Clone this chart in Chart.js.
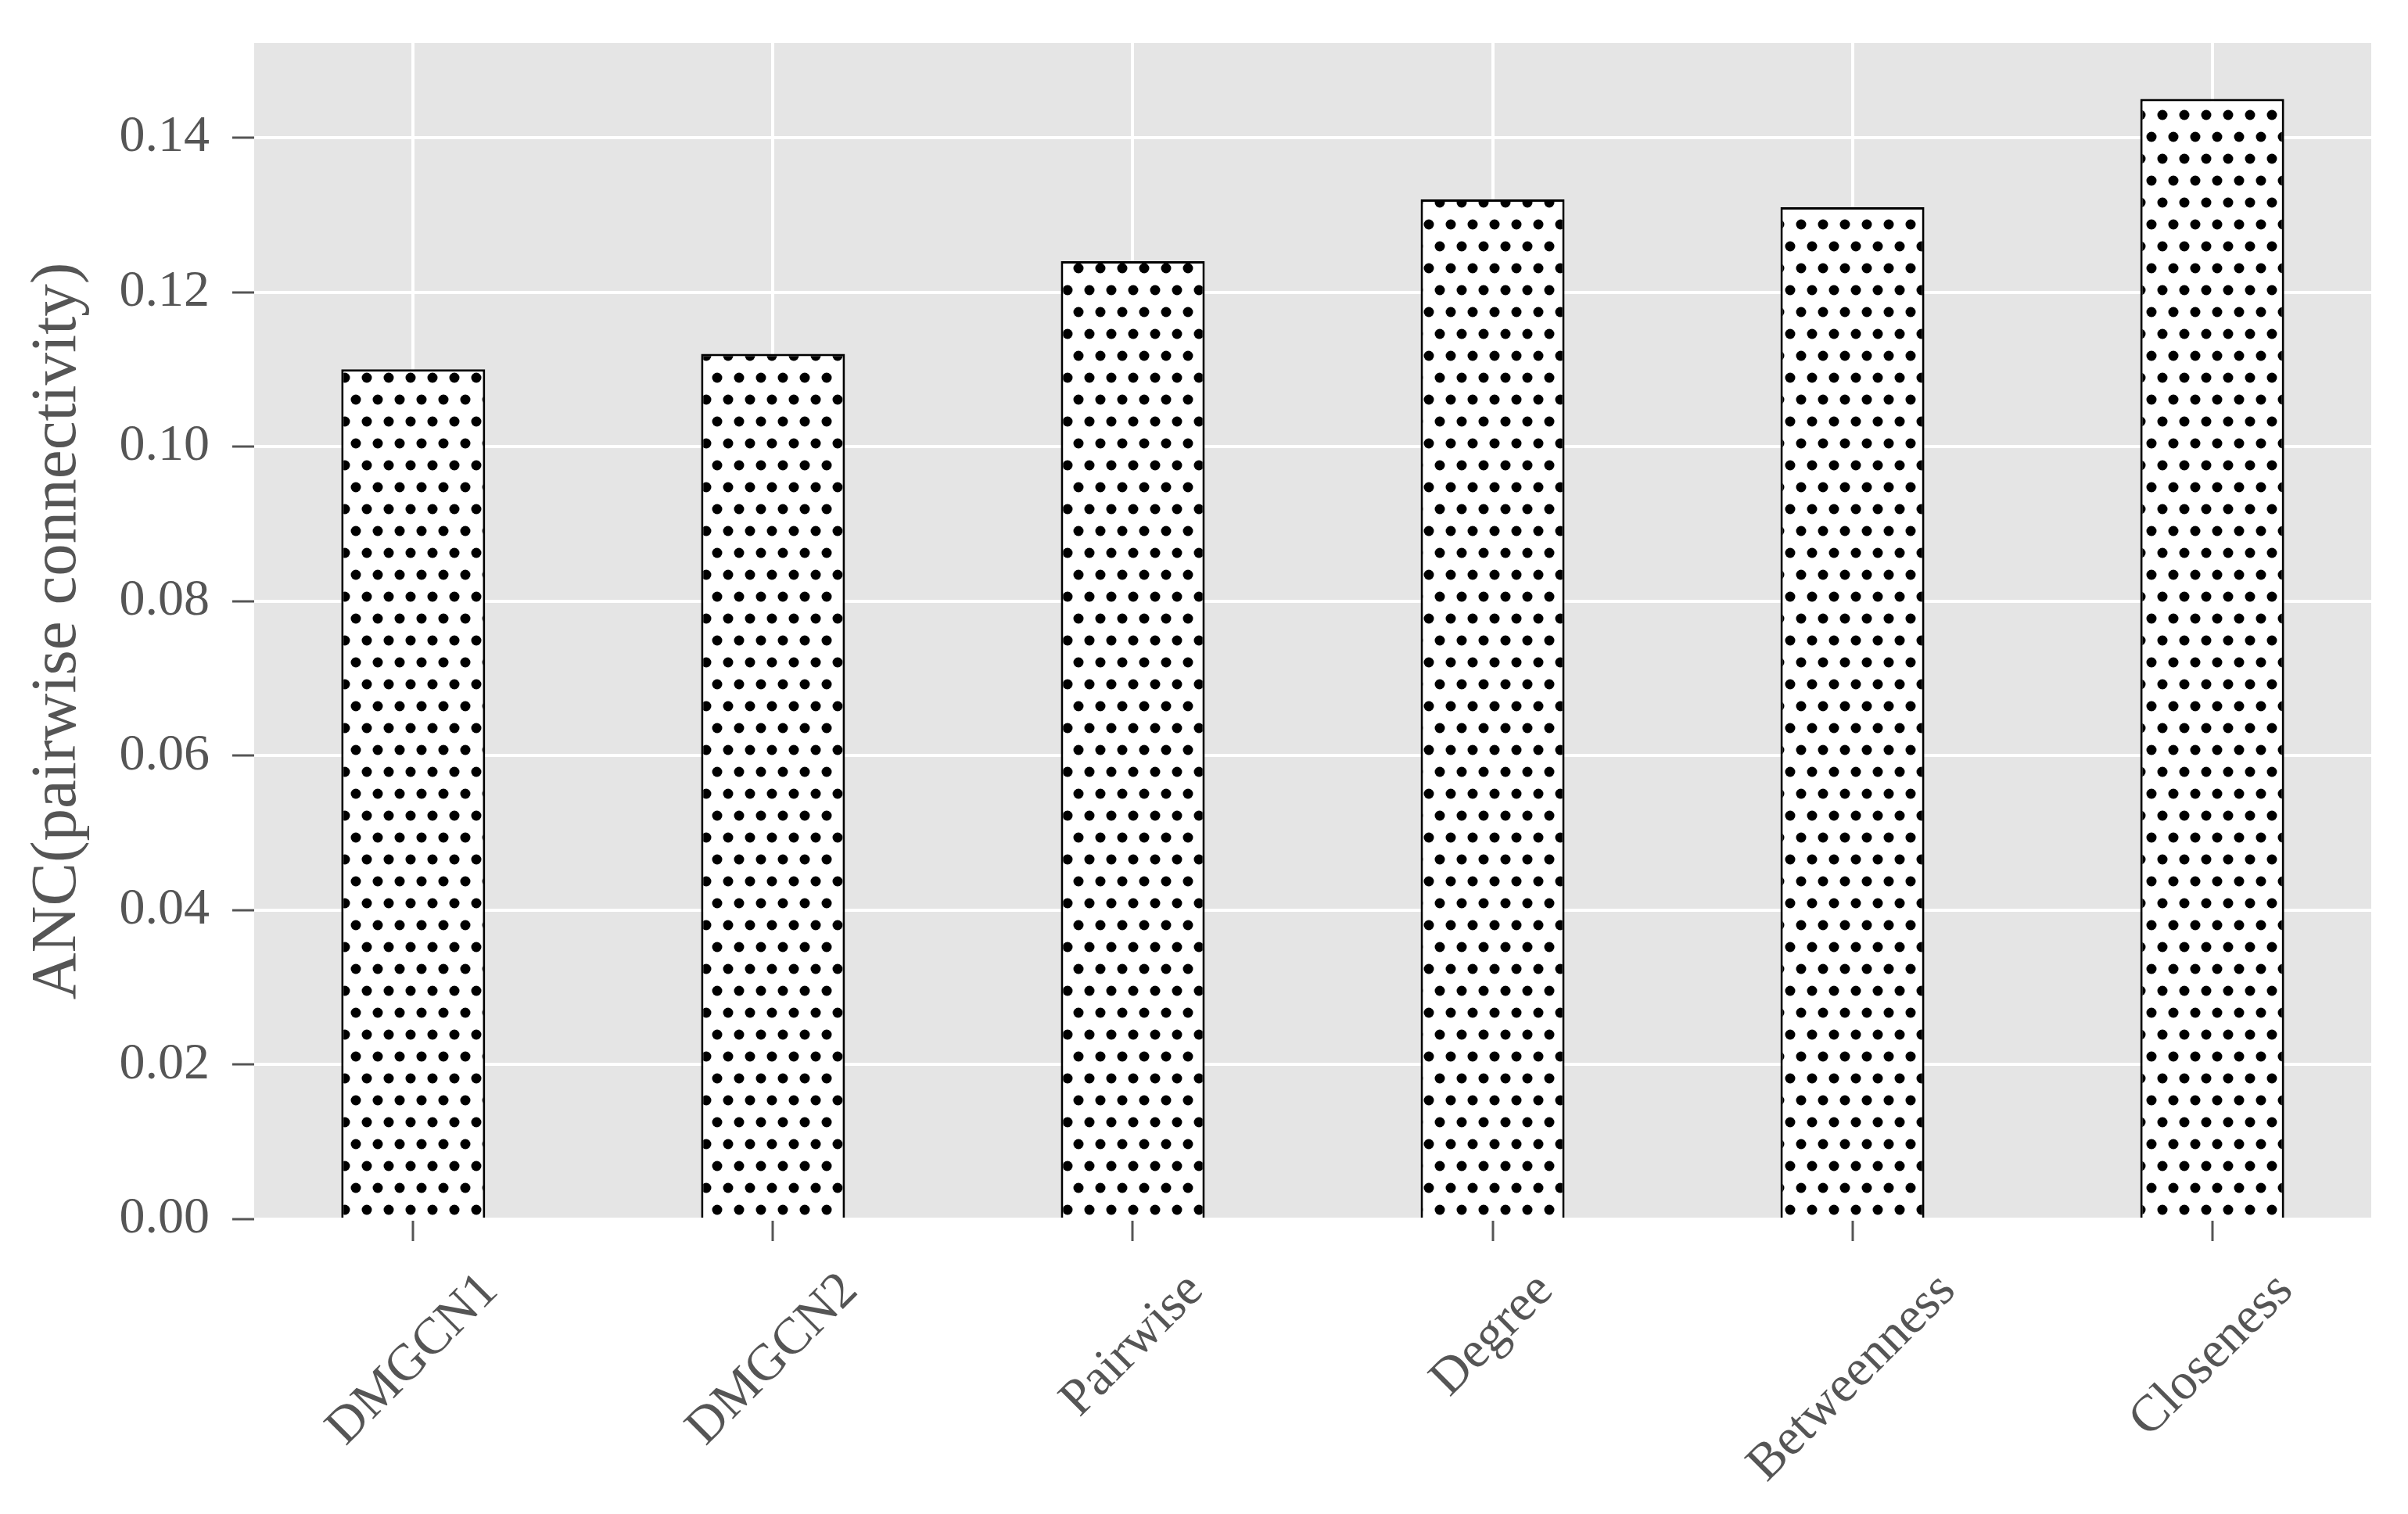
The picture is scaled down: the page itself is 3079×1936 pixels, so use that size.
<!DOCTYPE html>
<html>
<head>
<meta charset="utf-8">
<script src="https://cdn.jsdelivr.net/npm/chart.js@4"></script>
<style>
  body { margin: 0; background: #fff; }
  canvas { display: block; }
</style>
</head>
<body>
<canvas id="ancChart" width="3079" height="1936"></canvas>
<script>
// ==========================
// DATOS
// ==========================
const categories = ["DMGCN1", "DMGCN2", "Pairwise", "Degree", "Betweenness", "Closeness"];
const ancValues = [0.110, 0.112, 0.124, 0.132, 0.131, 0.145];
const yTicks = [0.00, 0.02, 0.04, 0.06, 0.08, 0.10, 0.12, 0.14];
const yTitle = "ANC(pairwise connectivity)";

const textColor = "#555555";
const serif = '"Times New Roman", "Liberation Serif", serif';

// patrón de puntos (relleno de las barras)
function dotPattern(){
    const c = document.createElement("canvas");
    c.width = 28; c.height = 56;
    const g = c.getContext("2d");
    g.fillStyle = "#ffffff";
    g.fillRect(0, 0, 28, 56);
    g.fillStyle = "#000000";
    [[7, 7], [21, 35]].forEach(p => {
        g.beginPath();
        g.arc(p[0], p[1], 6.5, 0, Math.PI * 2);
        g.fill();
    });
    return document.getElementById("ancChart").getContext("2d").createPattern(c, "repeat");
}

// fondo gris del área del gráfico
const plotBackground = {
    id: "plotBackground",
    beforeDraw(chart){
        const {ctx, chartArea: a} = chart;
        ctx.save();
        ctx.fillStyle = "#E5E5E5";
        ctx.fillRect(a.left, a.top, a.right - a.left, a.bottom - a.top);
        ctx.restore();
    }
};

// etiquetas del eje x giradas 45°, centradas bajo cada marca
const rotatedLabels = {
    id: "rotatedLabels",
    afterDraw(chart){
        const {ctx, scales: {x}} = chart;
        const size = 66;
        const h = size * 0.66;
        const yTop = chart.chartArea.bottom + 66;
        ctx.save();
        ctx.font = size + "px " + serif;
        ctx.fillStyle = textColor;
        ctx.textAlign = "center";
        ctx.textBaseline = "middle";
        categories.forEach((label, i) => {
            const px = x.getPixelForValue(i);
            const w = ctx.measureText(label).width;
            const cy = yTop + (w + h) * Math.SQRT1_2 / 2;
            ctx.save();
            ctx.translate(px, cy);
            ctx.rotate(-Math.PI / 4);
            ctx.fillText(label, 0, 0);
            ctx.restore();
        });
        ctx.restore();
    }
};

const chart = new Chart(document.getElementById("ancChart"), {
    type: "bar",
    data: {
        datasets: [{
            data: ancValues.map((v, i) => ({x: i, y: v})),
            backgroundColor: dotPattern(),
            borderColor: "#000000",
            borderWidth: 3,
            borderSkipped: "bottom",
            barPercentage: 0.4,
            categoryPercentage: 1.0
        }]
    },
    options: {
        responsive: false,
        devicePixelRatio: 1,
        animation: false,
        layout: { padding: { top: 55, right: 47, bottom: 0, left: 0 } },
        plugins: {
            legend: { display: false },
            tooltip: { enabled: false }
        },
        scales: {
            x: {
                type: "linear",
                min: -0.442,
                max: 5.442,
                offset: false,
                border: { display: false },
                grid: {
                    offset: false,
                    color: "#ffffff",
                    lineWidth: 4,
                    drawTicks: true,
                    tickLength: 28,
                    tickColor: textColor,
                    tickWidth: 3
                },
                afterBuildTicks(scale){
                    scale.ticks = categories.map((c, i) => ({value: i}));
                },
                ticks: {
                    autoSkip: false,
                    maxRotation: 0,
                    color: "rgba(0,0,0,0)",
                    callback: v => categories[v] || ""
                },
                afterFit(scale){
                    scale.height = 377;
                    scale.paddingLeft = 0;
                    scale.paddingRight = 0;
                }
            },
            y: {
                min: 0,
                max: 0.15225,
                border: { display: false },
                grid: {
                    color: "#ffffff",
                    lineWidth: 4,
                    drawTicks: true,
                    tickLength: 28,
                    tickColor: textColor,
                    tickWidth: 3
                },
                afterBuildTicks(scale){
                    scale.ticks = yTicks.map(v => ({value: v}));
                },
                ticks: {
                    padding: 29,
                    color: textColor,
                    font: { family: serif, size: 66 },
                    callback: v => Number(v).toFixed(2)
                },
                title: {
                    display: true,
                    text: yTitle,
                    color: textColor,
                    font: { family: serif, size: 83 },
                    padding: { top: 24, bottom: 0 }
                },
                afterFit(scale){
                    scale.width = 325;
                    scale.paddingTop = 0;
                    scale.paddingBottom = 0;
                }
            }
        }
    },
    plugins: [plotBackground, rotatedLabels]
});
</script>
</body>
</html>
